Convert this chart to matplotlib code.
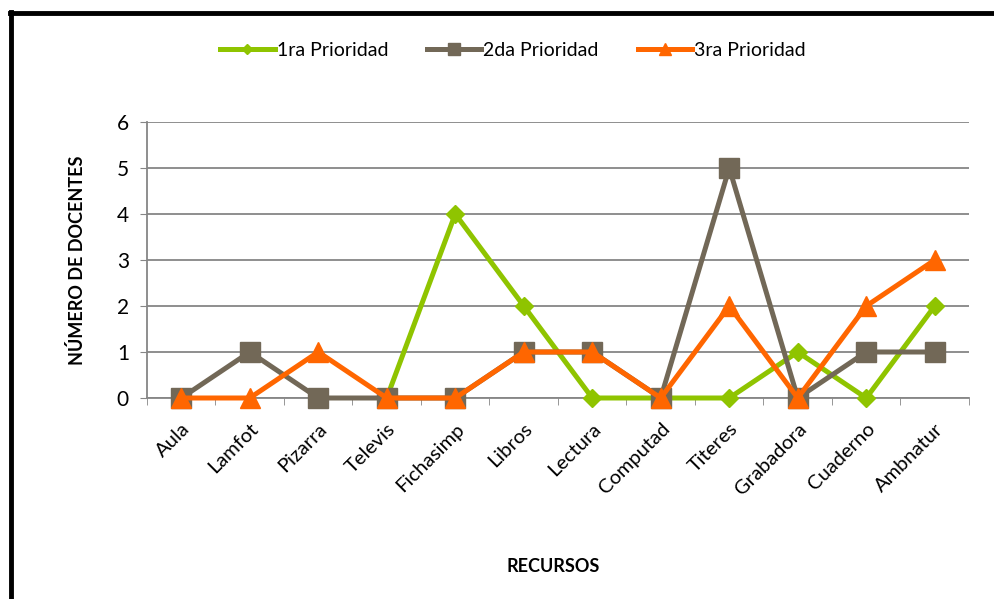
import matplotlib.pyplot as plt
from matplotlib.lines import Line2D

plt.rcParams['font.family'] = ['Lato', 'DejaVu Sans']

nan = float("nan")
recursos = ["Aula", "Lamfot", "Pizarra", "Televis", "Fichasimp", "Libros",
            "Lectura", "Computad", "Titeres", "Grabadora", "Cuaderno", "Ambnatur"]
# first three cells of 1ra Prioridad are empty in the source chart
prioridad1 = [nan, nan, nan, 0, 4, 2, 0, 0, 0, 1, 0, 2]
prioridad2 = [0, 1, 0, 0, 0, 1, 1, 0, 5, 0, 1, 1]
prioridad3 = [0, 0, 1, 0, 0, 1, 1, 0, 2, 0, 2, 3]
yticks = [0, 1, 2, 3, 4, 5, 6]

fig = plt.figure(figsize=(9.95, 5.99), dpi=100)
ax = fig.add_axes([147 / 995, 1 - 398 / 599, (969 - 147) / 995, (398 - 122) / 599])

x = list(range(len(recursos)))
ax.plot(x, prioridad1, color="#8FC400", lw=3.6, marker="D", ms=9, label="1ra Prioridad",
        zorder=3, clip_on=False)
ax.plot(x, prioridad2, color="#726857", lw=3.6, marker="s", ms=14, label="2da Prioridad",
        zorder=4, clip_on=False)
ax.plot(x, prioridad3, color="#FF6600", lw=3.6, marker="^", ms=14, label="3ra Prioridad",
        zorder=5, clip_on=False)

ax.set_xlim(-0.5, len(recursos) - 0.5)
ax.set_ylim(0, 6)
ax.set_yticks(yticks)
ax.set_xticks(x)
ax.set_xticklabels(recursos, rotation=45, ha="right", rotation_mode="anchor", fontsize=14.5)
ax.tick_params(axis="x", length=0, pad=16)
ax.set_xticks([i - 0.5 for i in range(len(recursos) + 1)], minor=True)
ax.tick_params(axis="x", which="minor", length=5, color="#868686", direction="out")
ax.tick_params(axis="y", length=5, color="#868686", labelsize=15, pad=8)

ax.grid(axis="y", color="#868686", lw=1.3)
ax.set_axisbelow(True)
for s in ["top", "right"]:
    ax.spines[s].set_visible(False)
for s in ["left", "bottom"]:
    ax.spines[s].set_color("#868686")
    ax.spines[s].set_linewidth(1.3)
ax.spines["bottom"].set_zorder(2)

ax.set_ylabel("NÚMERO DE DOCENTES", fontsize=13, fontweight="bold", labelpad=22)
fig.text(553 / 995, 1 - 567 / 599, "RECURSOS", fontsize=13, fontweight="bold", ha="center", va="center")

fig.legend(loc="center", bbox_to_anchor=(513 / 995, 1 - 50 / 599), ncol=3, frameon=False,
           fontsize=14, handlelength=2.8, columnspacing=2.0, handletextpad=0.1, markerscale=0.6)

# border left and top
fig.add_artist(Line2D([11 / 995, 11 / 995], [0, 1 - 12 / 599], color="black", lw=3.5))
fig.add_artist(Line2D([10 / 995, 1], [1 - 13 / 599, 1 - 13 / 599], color="black", lw=3.5))

fig.savefig("out.png", dpi=100)
